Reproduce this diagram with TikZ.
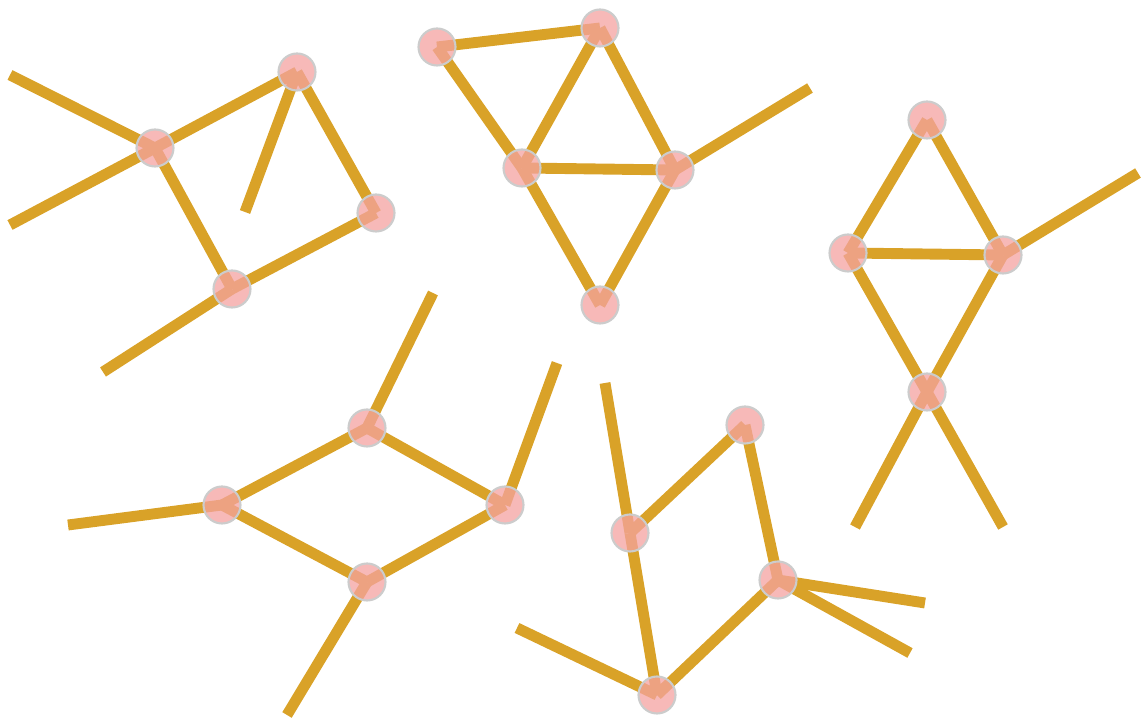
\documentclass[tikz,border=0pt]{standalone}
\usepackage{tikz}
\usetikzlibrary{backgrounds}
\definecolor{matchwood}{HTML}{D9A228}
\definecolor{ballpink}{HTML}{F4A2A0}
\tikzset{
ball/.style = {circle, fill=ballpink, fill opacity=0.75, draw=black!20,
               line width=0.6pt, minimum size=#1, inner sep=0pt, outer sep=0pt},
ball/.default = 0.37cm, % circle diameter
stick/.style = {line width=3.1pt, color=matchwood, line cap=butt}
}
\newcommand{\ball}[2]{\node[ball] (#1) at (#2) {};}
\newcommand{\tip}[2]{\coordinate (#1) at (#2);}
\newcommand{\stick}[2]{\draw[stick] (#1.center) -- (#2.center);}

\begin{document}
\begin{tikzpicture}[x=0.01cm, y=-0.01cm]
    \useasboundingbox (0,0) rectangle (1142,722);

    % top left
    \ball{a1}{155,148};
    \ball{b1}{297,72};
    \ball{c1}{376,213};
    \ball{d1}{232,289};
    \tip{a1l}{10,75};
    \tip{a1m}{10,225};
    \tip{b1i}{245,212};
    \tip{d1l}{103,372};

    % top middle
    \ball{p2}{437,47};
    \ball{q2}{600,28};
    \ball{r2}{522,168};
    \ball{s2}{675,170};
    \ball{t2}{600,305};
    \tip{s2r}{810,88};

    % right
    \ball{u3}{927,120};
    \ball{v3}{848,253};
    \ball{w3}{1003,255};
    \ball{x3}{927,392};
    \tip{w3r}{1138,173};
    \tip{x3l}{855,527};
    \tip{x3r}{1003,527};

    % bottom left
    \ball{e4}{367,428};
    \ball{f4}{222,505};
    \ball{g4}{505,505};
    \ball{h4}{367,582};
    \tip{e4u}{433,293};
    \tip{g4u}{557,363};
    \tip{f4l}{68,525};
    \tip{h4d}{287,715};

    % bottom right
    \ball{k5}{745,425};
    \ball{l5}{630,533};
    \ball{m5}{778,580};
    \ball{n5}{657,695};
    \tip{l5u}{605,383};
    \tip{m5r}{925,603};
    \tip{m5d}{910,653};
    \tip{n5l}{517,628};

    \begin{scope}[on background layer]
    \stick{a1}{b1};
    \stick{b1}{c1};
    \stick{c1}{d1};
    \stick{a1}{d1};
    \stick{a1}{a1l};
    \stick{a1}{a1m};
    \stick{b1}{b1i};
    \stick{d1}{d1l};

    \stick{p2}{q2};
    \stick{p2}{r2};
    \stick{q2}{r2};
    \stick{q2}{s2};
    \stick{r2}{s2};
    \stick{r2}{t2};
    \stick{s2}{t2};
    \stick{s2}{s2r};

    \stick{u3}{v3};
    \stick{u3}{w3};
    \stick{v3}{w3};
    \stick{v3}{x3};
    \stick{w3}{x3};
    \stick{w3}{w3r};
    \stick{x3}{x3l};
    \stick{x3}{x3r};

    \stick{e4}{f4};
    \stick{e4}{g4};
    \stick{f4}{h4};
    \stick{g4}{h4};
    \stick{e4}{e4u};
    \stick{g4}{g4u};
    \stick{f4}{f4l};
    \stick{h4}{h4d};

    \stick{k5}{l5};
    \stick{k5}{m5};
    \stick{l5}{n5};
    \stick{m5}{n5};
    \stick{l5}{l5u};
    \stick{m5}{m5r};
    \stick{m5}{m5d};
    \stick{n5}{n5l};
    \end{scope}
\end{tikzpicture}
\end{document}
